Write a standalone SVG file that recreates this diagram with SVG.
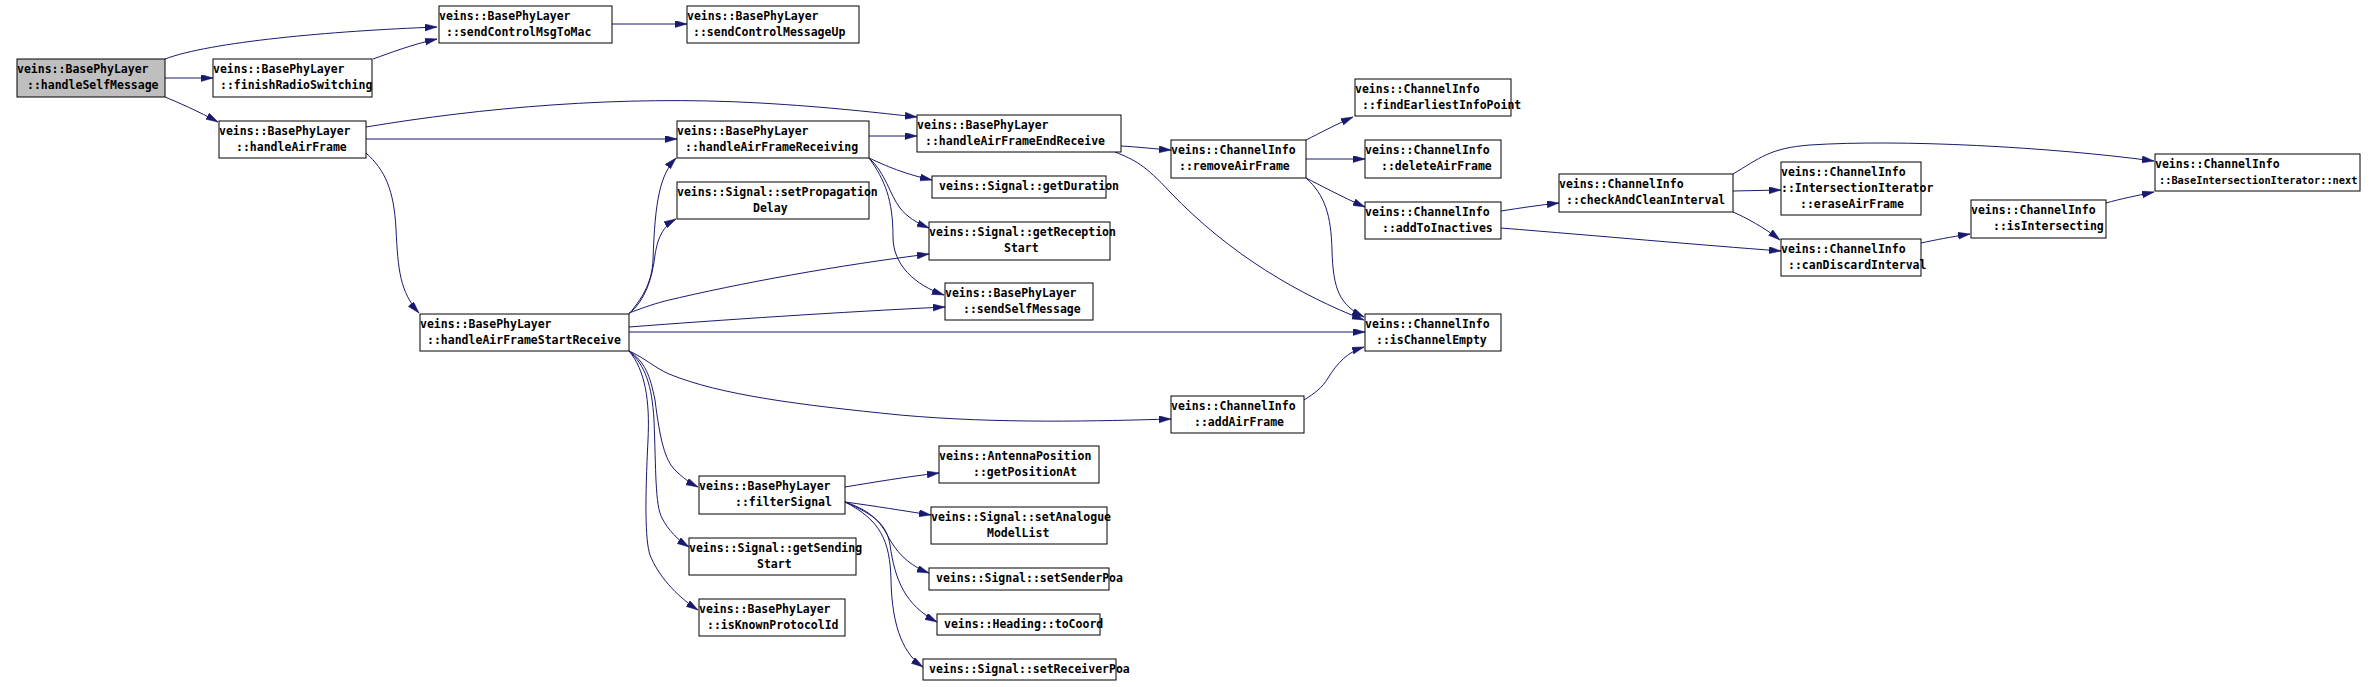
<svg xmlns="http://www.w3.org/2000/svg" width="2375" height="687" viewBox="0 0 2375 687">
<style>
.n rect{fill:#ffffff;stroke:#000000;stroke-width:1}
.n.root rect{fill:#bfbfbf}
.n text{font-family:"DejaVu Sans Mono","Liberation Mono",monospace;font-size:11.5px;font-weight:bold;fill:#000000}
.n text.sm{font-size:10.3px}
.e path{fill:none;stroke:#191970;stroke-width:1;marker-end:url(#arr)}
</style>
<defs>
<marker id="arr" markerUnits="userSpaceOnUse" markerWidth="13" markerHeight="8" refX="12" refY="3.5" orient="auto">
<path d="M0,0 L12,3.5 L0,7 z" fill="#191970" stroke="#191970" stroke-width="0.5"/>
</marker>
</defs>
<rect x="0" y="0" width="2375" height="687" fill="#ffffff"/>
<g id="edges" class="e">
<path d="M165,59 C210,42 330,31 437,27"/>
<path d="M165,78 L213,78"/>
<path d="M165,97 C175,101 200,112 218,122"/>
<path d="M373,59 C390,53 410,45 437,39"/>
<path d="M612,24 L687,24"/>
<path d="M366,127 C480,108 620,95 760,103 C830,107 880,113 917,117"/>
<path d="M366,139 L677,139"/>
<path d="M366,153 C385,170 394,190 396,229 C398,270 400,292 419,313"/>
<path d="M869,136 L917,136"/>
<path d="M869,158 C880,163 900,173 932,180"/>
<path d="M869,158 C885,172 890,195 900,208 C907,217 917,223 929,228"/>
<path d="M869,158 C885,180 893,200 893,237 C893,265 915,285 944,295"/>
<path d="M1121,146 C1140,147 1155,149 1171,150"/>
<path d="M1115,152 C1135,160 1145,165 1170,192 C1230,255 1300,295 1364,320"/>
<path d="M1306,140 C1320,133 1335,125 1353,117"/>
<path d="M1306,159 L1365,159"/>
<path d="M1306,178 C1320,185 1340,196 1365,207"/>
<path d="M1306,178 C1325,195 1331,215 1332,250 C1333,290 1340,305 1364,317"/>
<path d="M1501,211 C1520,208 1540,205 1559,203"/>
<path d="M1501,228 C1600,236 1700,245 1781,251"/>
<path d="M1733,191 L1781,190"/>
<path d="M1733,212 C1745,217 1765,228 1780,240"/>
<path d="M1733,174 C1760,158 1770,148 1810,145 C1900,139 2050,147 2154,161"/>
<path d="M1921,243 C1935,240 1950,237 1970,234"/>
<path d="M2106,203 C2120,199 2135,196 2154,192"/>
<path d="M629,314 C645,295 652,280 653,260 C655,200 660,175 676,158"/>
<path d="M629,314 C645,300 652,280 655,255 C658,235 665,225 676,219"/>
<path d="M629,313 C640,309 650,305 665,301 C740,283 840,265 929,254"/>
<path d="M629,327 C720,320 840,312 945,307"/>
<path d="M629,332 L1365,332"/>
<path d="M629,351 C645,358 655,368 669,374 C720,395 800,405 900,415 C1000,424 1100,421 1171,419"/>
<path d="M1304,400 C1315,393 1322,388 1328,378 C1338,362 1348,352 1364,347"/>
<path d="M629,351 C645,362 650,375 655,400 C660,440 665,460 675,470 C683,478 690,483 698,487"/>
<path d="M629,351 C645,365 652,385 654,420 C656,470 655,505 662,518 C668,530 678,540 689,547"/>
<path d="M629,351 C645,370 650,400 648,440 C645,500 645,540 650,555 C658,575 675,595 698,610"/>
<path d="M845,487 C875,482 905,477 939,473"/>
<path d="M845,502 C875,506 905,511 931,515"/>
<path d="M845,502 C875,512 882,525 890,540 C900,557 913,567 929,573"/>
<path d="M845,502 C875,515 887,525 890,545 C895,580 905,605 937,622"/>
<path d="M845,502 C880,520 890,540 891,580 C892,630 905,655 923,667"/>
</g>
<g id="n_handleSelfMessage" class="n root"><rect x="17" y="59" width="148" height="38"/><text x="17" y="73">veins::BasePhyLayer</text><text x="27" y="89">::handleSelfMessage</text></g>
<g id="n_finishRadioSwitching" class="n"><rect x="213" y="59" width="159" height="38"/><text x="213" y="73">veins::BasePhyLayer</text><text x="220" y="89">::finishRadioSwitching</text></g>
<g id="n_sendControlMsgToMac" class="n"><rect x="439" y="6" width="173" height="37"/><text x="439" y="20">veins::BasePhyLayer</text><text x="446" y="36">::sendControlMsgToMac</text></g>
<g id="n_sendControlMessageUp" class="n"><rect x="687" y="6" width="172" height="37"/><text x="687" y="20">veins::BasePhyLayer</text><text x="693" y="36">::sendControlMessageUp</text></g>
<g id="n_handleAirFrame" class="n"><rect x="219" y="121" width="147" height="37"/><text x="219" y="135">veins::BasePhyLayer</text><text x="236" y="151">::handleAirFrame</text></g>
<g id="n_handleAirFrameReceiving" class="n"><rect x="677" y="121" width="192" height="37"/><text x="677" y="135">veins::BasePhyLayer</text><text x="685" y="151">::handleAirFrameReceiving</text></g>
<g id="n_setPropagationDelay" class="n"><rect x="677" y="182" width="192" height="37"/><text x="677" y="196">veins::Signal::setPropagation</text><text x="753" y="212">Delay</text></g>
<g id="n_handleAirFrameEndReceive" class="n"><rect x="917" y="115" width="204" height="37"/><text x="917" y="129">veins::BasePhyLayer</text><text x="925" y="145">::handleAirFrameEndReceive</text></g>
<g id="n_getDuration" class="n"><rect x="932" y="176" width="174" height="22"/><text x="939" y="190">veins::Signal::getDuration</text></g>
<g id="n_getReceptionStart" class="n"><rect x="929" y="222" width="181" height="38"/><text x="929" y="236">veins::Signal::getReception</text><text x="1004" y="252">Start</text></g>
<g id="n_sendSelfMessage" class="n"><rect x="945" y="283" width="148" height="37"/><text x="945" y="297">veins::BasePhyLayer</text><text x="963" y="313">::sendSelfMessage</text></g>
<g id="n_removeAirFrame" class="n"><rect x="1171" y="140" width="135" height="38"/><text x="1171" y="154">veins::ChannelInfo</text><text x="1179" y="170">::removeAirFrame</text></g>
<g id="n_findEarliestInfoPoint" class="n"><rect x="1355" y="79" width="156" height="37"/><text x="1355" y="93">veins::ChannelInfo</text><text x="1362" y="109">::findEarliestInfoPoint</text></g>
<g id="n_deleteAirFrame" class="n"><rect x="1365" y="140" width="136" height="38"/><text x="1365" y="154">veins::ChannelInfo</text><text x="1381" y="170">::deleteAirFrame</text></g>
<g id="n_addToInactives" class="n"><rect x="1365" y="202" width="136" height="37"/><text x="1365" y="216">veins::ChannelInfo</text><text x="1382" y="232">::addToInactives</text></g>
<g id="n_isChannelEmpty" class="n"><rect x="1365" y="314" width="136" height="37"/><text x="1365" y="328">veins::ChannelInfo</text><text x="1376" y="344">::isChannelEmpty</text></g>
<g id="n_checkAndCleanInterval" class="n"><rect x="1559" y="174" width="174" height="38"/><text x="1559" y="188">veins::ChannelInfo</text><text x="1566" y="204">::checkAndCleanInterval</text></g>
<g id="n_eraseAirFrame" class="n"><rect x="1781" y="162" width="140" height="53"/><text x="1781" y="176">veins::ChannelInfo</text><text x="1781" y="192">::IntersectionIterator</text><text x="1800" y="208">::eraseAirFrame</text></g>
<g id="n_canDiscardInterval" class="n"><rect x="1781" y="239" width="140" height="37"/><text x="1781" y="253">veins::ChannelInfo</text><text x="1788" y="269">::canDiscardInterval</text></g>
<g id="n_isIntersecting" class="n"><rect x="1971" y="200" width="135" height="38"/><text x="1971" y="214">veins::ChannelInfo</text><text x="1993" y="230">::isIntersecting</text></g>
<g id="n_next" class="n"><rect x="2155" y="154" width="205" height="37"/><text x="2155" y="168">veins::ChannelInfo</text><text class="sm" x="2159" y="184">::BaseIntersectionIterator::next</text></g>
<g id="n_handleAirFrameStartReceive" class="n"><rect x="420" y="314" width="209" height="37"/><text x="420" y="328">veins::BasePhyLayer</text><text x="427" y="344">::handleAirFrameStartReceive</text></g>
<g id="n_addAirFrame" class="n"><rect x="1171" y="396" width="133" height="37"/><text x="1171" y="410">veins::ChannelInfo</text><text x="1194" y="426">::addAirFrame</text></g>
<g id="n_filterSignal" class="n"><rect x="699" y="476" width="146" height="38"/><text x="699" y="490">veins::BasePhyLayer</text><text x="735" y="506">::filterSignal</text></g>
<g id="n_getSendingStart" class="n"><rect x="689" y="538" width="167" height="37"/><text x="689" y="552">veins::Signal::getSending</text><text x="757" y="568">Start</text></g>
<g id="n_isKnownProtocolId" class="n"><rect x="699" y="599" width="146" height="37"/><text x="699" y="613">veins::BasePhyLayer</text><text x="707" y="629">::isKnownProtocolId</text></g>
<g id="n_getPositionAt" class="n"><rect x="939" y="446" width="160" height="37"/><text x="939" y="460">veins::AntennaPosition</text><text x="973" y="476">::getPositionAt</text></g>
<g id="n_setAnalogueModelList" class="n"><rect x="931" y="507" width="176" height="37"/><text x="931" y="521">veins::Signal::setAnalogue</text><text x="987" y="537">ModelList</text></g>
<g id="n_setSenderPoa" class="n"><rect x="929" y="568" width="180" height="22"/><text x="936" y="582">veins::Signal::setSenderPoa</text></g>
<g id="n_toCoord" class="n"><rect x="937" y="614" width="163" height="21"/><text x="944" y="628">veins::Heading::toCoord</text></g>
<g id="n_setReceiverPoa" class="n"><rect x="923" y="659" width="193" height="21"/><text x="929" y="673">veins::Signal::setReceiverPoa</text></g>
</svg>
